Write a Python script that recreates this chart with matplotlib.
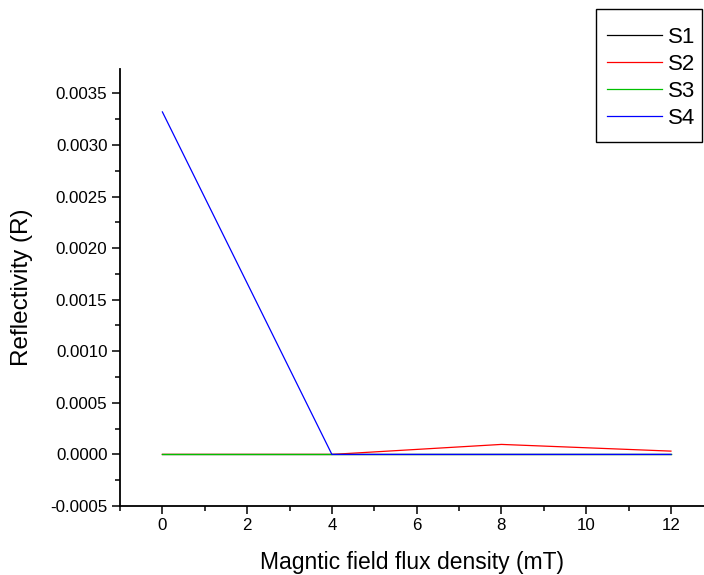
import numpy as np
import matplotlib
matplotlib.use("Agg")
import matplotlib.pyplot as plt
from matplotlib.patches import Rectangle

plt.rcParams['font.family'] = ['Liberation Sans', 'DejaVu Sans']

# field values (mT) and reflectivity of each sample
field = [0, 4, 8, 12]
s1 = [0.0, 0.0, 0.0, 0.0]
s2 = [0.0, 0.0, 0.000097, 0.000032]
s3 = [0.0, 0.0, 0.0, 0.0]
s4 = [0.00332, 0.0, 0.0, 0.0]

labels = ['S1', 'S2', 'S3', 'S4']
colors = ['black', 'red', '#00c000', 'blue']

W, H = 704, 575
fig = plt.figure(figsize=(W / 100, H / 100), dpi=100)
ax = fig.add_axes([120 / W, 1 - 506 / H, 1 - 120 / W, (506 - 69) / H])

for y, lab, c in zip([s1, s2, s3, s4], labels, colors):
    ax.plot(field, y, color=c, lw=0.9, label=lab)

ax.set_xlim(-1, 12.78)
ax.set_ylim(-0.0005, 0.003736)
ax.set_xticks([0, 2, 4, 6, 8, 10, 12])
ax.set_xticks(np.arange(-1, 13, 1), minor=True)
yt = np.arange(-0.0005, 0.0036, 0.0005)
ax.set_yticks(yt)
ax.set_yticks(np.arange(-0.00025, 0.0037, 0.0005), minor=True)
ax.set_yticklabels(['%.4f' % v for v in yt])

for s in ['top', 'right']:
    ax.spines[s].set_visible(False)
for s in ['left', 'bottom']:
    ax.spines[s].set_linewidth(1.3)
ax.tick_params(which='major', direction='out', length=6, width=1.1, labelsize=12.2, pad=3)
ax.tick_params(which='minor', direction='out', length=3.5, width=1.1)

ax.set_xlabel('Magntic field flux density (mT)', fontsize=16.5, va='center')
ax.set_ylabel('Reflectivity (R)', fontsize=17.5, va='center')
ax.xaxis.set_label_coords(0.5, (506 - 563) / 437)
ax.yaxis.set_label_coords((22 - 120) / 584, 0.5)

# legend box drawn separately so the padding can differ per side
fig.patches.append(Rectangle((596 / W, 1 - 141.7 / H), (701.7 - 596) / W, (141.7 - 9.3) / H,
                             transform=fig.transFigure, fill=False, ec='black', lw=1.0))
leg = fig.legend(loc='upper left', bbox_to_anchor=(607 / W, 1 - 27 / H),
                 bbox_transform=fig.transFigure, fontsize=16, frameon=False,
                 handlelength=2.48, handletextpad=0.27, labelspacing=0.27,
                 borderpad=0, borderaxespad=0)

fig.savefig('out.png', dpi=100)
